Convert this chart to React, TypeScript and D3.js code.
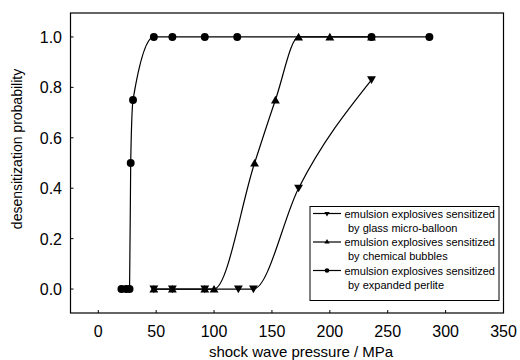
import { useEffect, useRef } from "react";
import * as d3 from "d3";

const xTicks = [0, 50, 100, 150, 200, 250, 300, 350];
const yTicks = [0, 0.2, 0.4, 0.6, 0.8, 1.0];

// shock wave pressure (MPa) and desensitization probability, per sensitizer
const glassX = [48, 64, 92, 121, 134, 173, 236];
const glassP = [0, 0, 0, 0, 0, 0.4, 0.83];
const chemX = [48, 64, 92, 100, 135, 153, 173, 200, 236];
const chemP = [0, 0, 0, 0, 0.5, 0.75, 1, 1, 1];
const perliteX = [20, 24, 27, 28, 30, 48, 64, 92, 120, 236, 286];
const perliteP = [0, 0, 0, 0.5, 0.75, 1, 1, 1, 1, 1, 1];

const legendLines = [
  ["emulsion explosives sensitized", "by glass micro-balloon"],
  ["emulsion explosives sensitized", "by chemical bubbles"],
  ["emulsion explosives sensitized", "by expanded perlite"],
];
const markerTypes = ["down", "up", "circle"];

const App = () => {
  const ref = useRef<SVGSVGElement | null>(null);

  useEffect(() => {
    const svg = d3.select(ref.current);
    svg.selectAll("*").remove();

    const width = 520;
    const height = 360;
    const font = "'Liberation Sans', Arial, sans-serif";

    const x = d3.scaleLinear().domain([-24, 350]).range([70.5, 503.5]);
    const y = d3.scaleLinear().domain([-0.095, 1.095]).range([313, 13]);

    svg.attr("width", width).attr("height", height);

    const series = [
      { xs: glassX, ps: glassP, type: "down" },
      { xs: chemX, ps: chemP, type: "up" },
      { xs: perliteX, ps: perliteP, type: "circle" },
    ];

    const line = d3
      .line<[number, number]>()
      .x((d) => x(d[0]))
      .y((d) => y(d[1]))
      .curve(d3.curveMonotoneX);

    const symbolPath = (type: string, size: number) =>
      type === "circle"
        ? d3.symbol().type(d3.symbolCircle).size(size * 1.45)()
        : d3.symbol().type(d3.symbolTriangle).size(size)();

    // curves
    series.forEach((s) => {
      const pts = s.xs.map((v, i) => [v, s.ps[i]] as [number, number]);
      svg
        .append("path")
        .attr("d", line(pts))
        .attr("fill", "none")
        .attr("stroke", "#000")
        .attr("stroke-width", 1.2);
    });

    // markers
    series.forEach((s) => {
      svg
        .append("g")
        .selectAll("path")
        .data(s.xs.map((v, i) => [v, s.ps[i]]))
        .join("path")
        .attr("d", symbolPath(s.type, 34))
        .attr(
          "transform",
          (d) =>
            `translate(${x(d[0])},${y(d[1]) + (s.type === "down" ? -1 : s.type === "up" ? 1 : 0)})` +
            (s.type === "down" ? " rotate(180)" : "")
        )
        .attr("fill", "#000");
    });

    // frame
    svg
      .append("rect")
      .attr("x", x(-24))
      .attr("y", y(1.095))
      .attr("width", x(350) - x(-24))
      .attr("height", y(-0.095) - y(1.095))
      .attr("fill", "none")
      .attr("stroke", "#000")
      .attr("stroke-width", 1.2);

    // x axis ticks + labels
    const xg = svg.append("g");
    xg.selectAll("line")
      .data(xTicks)
      .join("line")
      .attr("x1", (d) => x(d))
      .attr("x2", (d) => x(d))
      .attr("y1", y(-0.095))
      .attr("y2", y(-0.095) - 3)
      .attr("stroke", "#000");
    xg.selectAll("text")
      .data(xTicks)
      .join("text")
      .attr("x", (d) => x(d))
      .attr("y", 337)
      .attr("text-anchor", "middle")
      .attr("font-family", font)
      .attr("font-size", 16)
      .text((d) => d3.format("d")(d));

    // y axis ticks + labels
    const yg = svg.append("g");
    yg.selectAll("line")
      .data(yTicks)
      .join("line")
      .attr("x1", x(-24))
      .attr("x2", x(-24) + 3)
      .attr("y1", (d) => y(d))
      .attr("y2", (d) => y(d))
      .attr("stroke", "#000");
    yg.selectAll("text")
      .data(yTicks)
      .join("text")
      .attr("x", 62)
      .attr("y", (d) => y(d) + 6)
      .attr("text-anchor", "end")
      .attr("font-family", font)
      .attr("font-size", 16)
      .text((d) => d3.format(".1f")(d));

    svg
      .append("text")
      .attr("x", 301)
      .attr("y", 357)
      .attr("text-anchor", "middle")
      .attr("font-family", font)
      .attr("font-size", 15)
      .text("shock wave pressure / MPa");

    svg
      .append("text")
      .attr("transform", "translate(22,149) rotate(-90)")
      .attr("text-anchor", "middle")
      .attr("font-family", font)
      .attr("font-size", 14)
      .text("desensitization probability");

    // legend
    const lg = svg.append("g");
    lg.append("rect")
      .attr("x", 310)
      .attr("y", 206.5)
      .attr("width", 189)
      .attr("height", 94)
      .attr("fill", "#fff")
      .attr("stroke", "#000")
      .attr("stroke-width", 1);

    legendLines.forEach((rows, i) => {
      const cy = 213.5 + i * 28.5;
      lg.append("line")
        .attr("x1", 313)
        .attr("x2", 341)
        .attr("y1", cy)
        .attr("y2", cy)
        .attr("stroke", "#000")
        .attr("stroke-width", 1.2);
      const t = markerTypes[i];
      lg.append("path")
        .attr("d", symbolPath(t, 12))
        .attr("transform", `translate(327,${cy})` + (t === "down" ? " rotate(180)" : ""))
        .attr("fill", "#000");
      rows.forEach((r, j) => {
        lg.append("text")
          .attr("x", j === 0 ? 344.5 : 348)
          .attr("y", cy + j * 14 + 4)
          .attr("font-family", font)
          .attr("font-size", 11)
          .text(r);
      });
    });

    return () => {
      svg.selectAll("*").remove();
    };
  }, []);

  return (
    <svg
      ref={ref}
      style={{ position: "absolute", left: 0, top: 0, display: "block", background: "#fff" }}
    />
  );
};

export default App;
